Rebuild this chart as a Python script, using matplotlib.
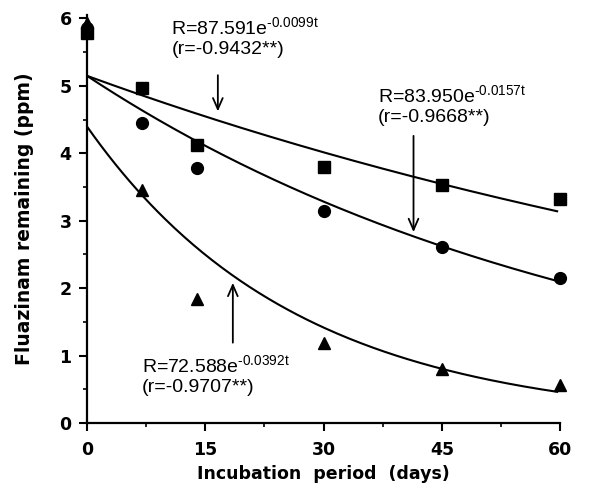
import numpy as np
import matplotlib
matplotlib.use("Agg")
import matplotlib.pyplot as plt
from matplotlib.ticker import MultipleLocator

# Data (days, ppm)
days = [0, 7, 14, 30, 45, 60]
squares = [5.78, 4.97, 4.13, 3.79, 3.53, 3.32]
circles = [5.86, 4.45, 3.78, 3.15, 2.61, 2.15]
triangles = [5.93, 3.45, 1.84, 1.19, 0.80, 0.56]

# Fitted exponential curves as drawn: y = a * exp(-k t)
curve_a = [5.15, 5.15, 4.40]
curve_k = [0.0083, 0.0150, 0.0378]

eq_texts = [r"R=87.591e$^{\mathregular{\text{-}0.0099t}}$" + "\n(r=-0.9432**)",
            r"R=83.950e$^{\mathregular{\text{-}0.0157t}}$" + "\n(r=-0.9668**)",
            r"R=72.588e$^{\mathregular{\text{-}0.0392t}}$" + "\n(r=-0.9707**)"]
x_ticks = [0, 15, 30, 45, 60]
y_ticks = [0, 1, 2, 3, 4, 5, 6]

plt.rcParams['mathtext.fontset'] = 'custom'
plt.rcParams['mathtext.rm'] = 'Liberation Sans'

fig = plt.figure(figsize=(5.91, 4.95), dpi=100)
ax = fig.add_axes([0.147, 0.1455, 0.801, 0.824])

t = np.linspace(0, 59.6, 200)
for a, k in zip(curve_a, curve_k):
    ax.plot(t, a * np.exp(-k * t), color='black', lw=1.5, zorder=2)

ax.plot(days, squares, 's', color='black', ms=8.5, clip_on=False, zorder=3)
ax.plot(days, circles, 'o', color='black', ms=8.5, clip_on=False, zorder=3)
ax.plot(days, triangles, '^', color='black', ms=8.5, clip_on=False, zorder=3)

ax.set_xlim(0, 60)
ax.set_ylim(0, 6.05)
ax.set_xticks(x_ticks)
ax.set_yticks(y_ticks)
ax.xaxis.set_minor_locator(MultipleLocator(7.5))
ax.yaxis.set_minor_locator(MultipleLocator(0.5))
ax.tick_params(which='major', direction='out', length=6, width=1.5, labelsize=12.5, pad=5)
ax.tick_params(axis='x', which='major', pad=7)
ax.tick_params(which='minor', direction='out', length=3, width=1.2)
for lab in ax.get_xticklabels() + ax.get_yticklabels():
    lab.set_fontweight('bold')
    lab.set_family('DejaVu Sans')
for s in ['top', 'right']:
    ax.spines[s].set_visible(False)
for s in ['left', 'bottom']:
    ax.spines[s].set_linewidth(1.6)

ax.set_xlabel('Incubation  period  (days)', fontsize=12.5, fontweight='bold', labelpad=4)
ax.set_ylabel('Fluazinam remaining (ppm)', fontsize=13.5, fontweight='bold', labelpad=18)

txt_kw = dict(fontsize=14, family='Liberation Sans', linespacing=1.15,
              ha='left', va='center', multialignment='left')
ax.text(10.7, 5.72, eq_texts[0], **txt_kw)
ax.text(36.9, 4.71, eq_texts[1], **txt_kw)
ax.text(7.0, 0.71, eq_texts[2], **txt_kw)

arrow_kw = dict(arrowstyle='->,head_length=0.8,head_width=0.35', color='black', lw=1.3)
ax.annotate('', xy=(16.6, 4.58), xytext=(16.6, 5.2), arrowprops=arrow_kw)
ax.annotate('', xy=(41.4, 2.79), xytext=(41.4, 4.3), arrowprops=arrow_kw)
ax.annotate('', xy=(18.5, 2.12), xytext=(18.5, 1.15), arrowprops=arrow_kw)

fig.savefig('out.png', dpi=100)
